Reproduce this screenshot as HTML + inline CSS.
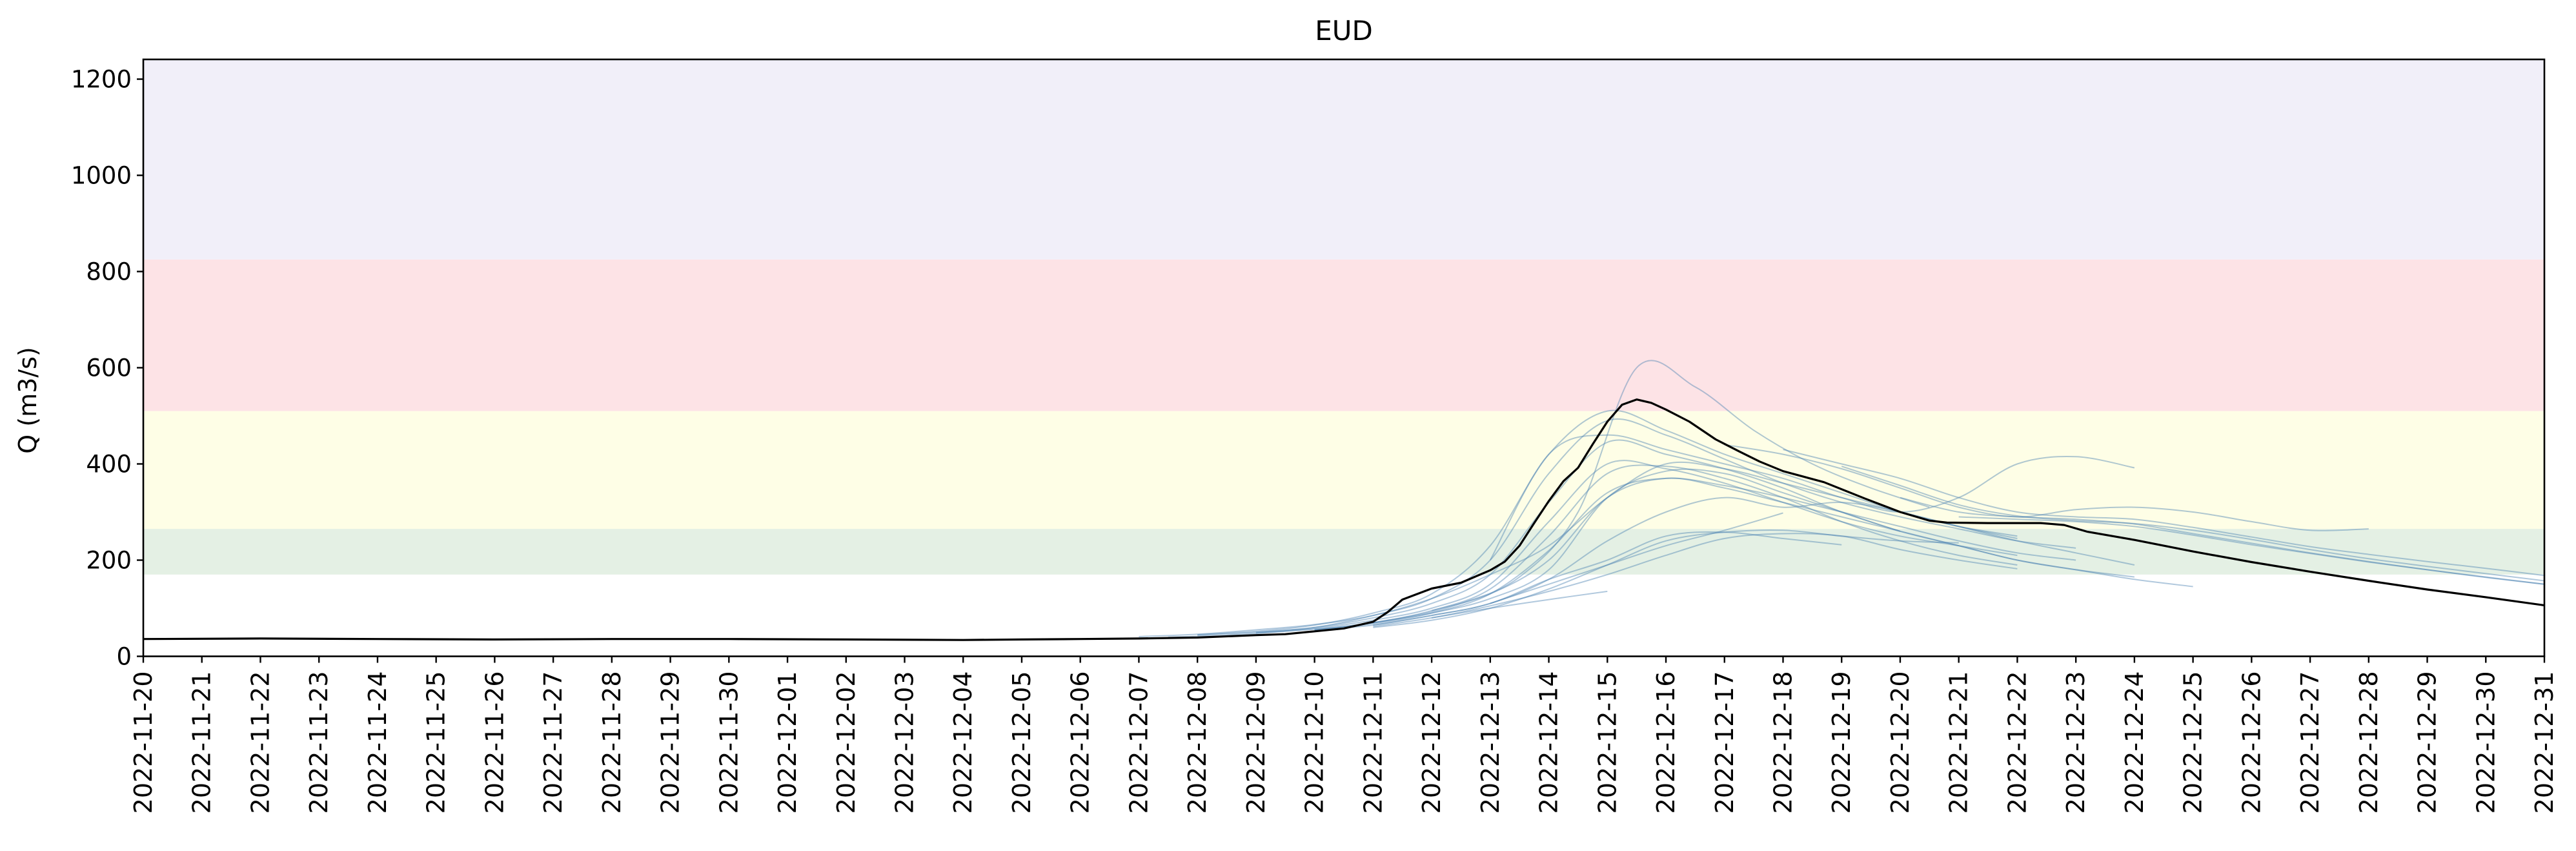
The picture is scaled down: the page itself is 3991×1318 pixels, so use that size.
<!DOCTYPE html>
<html><head><meta charset="utf-8"><style>
html,body{margin:0;padding:0;background:#fff;}
svg{display:block;font-family:"DejaVu Sans","Liberation Sans",sans-serif;}
</style></head><body>
<svg id="chart" width="3991" height="1318" viewBox="0 0 3991 1318" xmlns="http://www.w3.org/2000/svg">
<defs><clipPath id="plotclip"><rect x="222" y="92" width="3720" height="924.5"/></clipPath></defs>
<g id="bands"></g>
<g id="members" clip-path="url(#plotclip)"></g>
<g id="obs" clip-path="url(#plotclip)"></g>
<g id="axes"></g>
<text x="2082" y="62" font-size="42" text-anchor="middle">EUD</text>
<text transform="translate(56,620) rotate(-90)" font-size="38" text-anchor="middle">Q (m3/s)</text>
</svg>
<script>
const startDate = new Date(Date.UTC(2022,10,20));
const numDays = 42;
const yTicks = [0,200,400,600,800,1000,1200];
const yMax = 1241;
const bandLows = [170,265,510,825];
const bandHighs = [265,510,825,1241];
const bandColors = ["#e4f0e4","#fefee6","#fde3e6","#f1eff9"];
const obsX = [0,2,4,6,8,10,12,14,15,16,17,18,19,19.5,20,20.5,21,21.25,21.5,22,22.5,23,23.25,23.5,23.75,24,24.25,24.5,24.75,25,25.25,25.5,25.75,26,26.4,26.85,27.25,27.6,28,28.7,29.4,30,30.5,30.8,31.5,32.4,32.8,33.2,34,35,36,37,38,39,40,41];
const obsY = [36,37,36,35,36,36,35,34,35,36,37,39,44,46,52,58,72,92,118,141,153,179,197,230,277,323,364,392,441,488,523,534,527,513,488,451,426,405,385,362,328,300,282,278,277,277,273,259,242,218,196,176,157,139,123,106];
const memberStarts = [17.5,18,18,19,19,20,20,21,22,21,20,21,21,22,23,23,27,28,29,17,30,31];
const memberVals = [
 [40,44,52,62,80,110,165,300,600,560,470,400,350,310],
 [45,52,65,90,130,230,420,510,470,420,380,340,300,270,250],
 [44,50,60,85,120,200,380,490,460,410,360,320,290,265,240,225],
 [50,60,80,110,170,320,445,420,390,350,300,260],
 [48,58,75,100,150,280,400,390,360,320,280,250,230,210],
 [55,70,95,140,250,380,395,370,330,280,240,210,190],
 [55,68,90,130,220,340,370,355,330,300,270,240,215,200],
 [70,90,120,180,330,385,380,340,300,260,230,200,180,160,145],
 [95,130,200,330,370,350,320,290,260,230,200,180,165],
 [65,85,110,160,240,300,330,310,320,300,270,245],
 [55,65,85,110,160,200,250,258,245,232],
 [60,75,100,140,190,240,258,262,250,240,236],
 [62,80,105,135,170,210,245,255,250,222,200,182],
 [80,100,118,135],
 [110,150,190,230,262,298],
 [200,420,460,430,400,370,330,300,330,400,415,392],
 [440,420,390,350,310,290,305,310,300,280,262,265],
 [430,400,370,330,300,290,285,268,248,228,212,197,183,168],
 [395,355,315,292,282,276,262,243,222,203,187,172,157],
 [41,46,55,66,85,120,170,230,330,400,390,360,330,300,270,240,215,190],
 [330,300,290,285,275,255,235,215,197,180,165,150,136,124,114,110],
 [290,285,280,270,252,232,214,196,180,164,150,137,126,116,112]
];
</script>
<script>
const NS="http://www.w3.org/2000/svg";
const L=222,R=3942,T=92,B=1016.5;
const sx=d=>L+(R-L)*d/(numDays-1);
const sy=v=>B-(B-T)*v/yMax;
function mk(tag,attrs,parent){const e=document.createElementNS(NS,tag);for(const k in attrs)e.setAttribute(k,attrs[k]);parent.appendChild(e);return e;}
function smoothPath(pts){
  let d=`M${pts[0][0].toFixed(1)},${pts[0][1].toFixed(1)}`;
  for(let i=0;i<pts.length-1;i++){
    const p0=pts[i-1]||pts[i],p1=pts[i],p2=pts[i+1],p3=pts[i+2]||p2;
    const c1=[p1[0]+(p2[0]-p0[0])/6,p1[1]+(p2[1]-p0[1])/6];
    const c2=[p2[0]-(p3[0]-p1[0])/6,p2[1]-(p3[1]-p1[1])/6];
    d+=`C${c1[0].toFixed(1)},${c1[1].toFixed(1)} ${c2[0].toFixed(1)},${c2[1].toFixed(1)} ${p2[0].toFixed(1)},${p2[1].toFixed(1)}`;
  }
  return d;
}
const bandsG=document.getElementById('bands');
bandLows.forEach((lo,i)=>{
  const r=mk('rect',{x:L,y:sy(bandHighs[i]),width:R-L,height:sy(lo)-sy(bandHighs[i]),fill:bandColors[i]},bandsG);
  
  
});
const memG=document.getElementById('members');
memberVals.forEach((vals,i)=>{
  const pts=vals.map((v,j)=>[sx(memberStarts[i]+j),sy(v)]);
  const p=mk('path',{d:smoothPath(pts),fill:'none',stroke:'#4f86b4','stroke-opacity':0.45,'stroke-width':2},memG);
  
  
});
const obsG=document.getElementById('obs');
const op=mk('polyline',{points:obsX.map((d,i)=>sx(d).toFixed(1)+','+sy(obsY[i]).toFixed(1)).join(' '),fill:'none',stroke:'#000','stroke-width':3.2,'stroke-linejoin':'round'},obsG);


const ax=document.getElementById('axes');
const frame=mk('rect',{x:L,y:T,width:R-L,height:B-T,fill:'none',stroke:'#000','stroke-width':2.6},ax);


yTicks.forEach(v=>{
  const y=sy(v);
  const t=mk('line',{x1:L-10,x2:L,y1:y,y2:y,stroke:'#000','stroke-width':2.4},ax);
  
  
  const lb=mk('text',{x:L-18,y:y+13,'font-size':37,'text-anchor':'end'},ax);
  lb.textContent=v;
  
  
});
for(let d=0;d<numDays;d++){
  const x=sx(d);
  const t=mk('line',{x1:x,x2:x,y1:B,y2:B+10,stroke:'#000','stroke-width':2.4},ax);
  
  
  const dt=new Date(startDate.getTime()+d*86400000);
  const s=dt.toISOString().slice(0,10);
  const lb=mk('text',{transform:`translate(${(x+13).toFixed(1)},${B+23}) rotate(-90)`,'font-size':38,'text-anchor':'end'},ax);
  lb.textContent=s;
  
  
}
</script>
</body></html>
